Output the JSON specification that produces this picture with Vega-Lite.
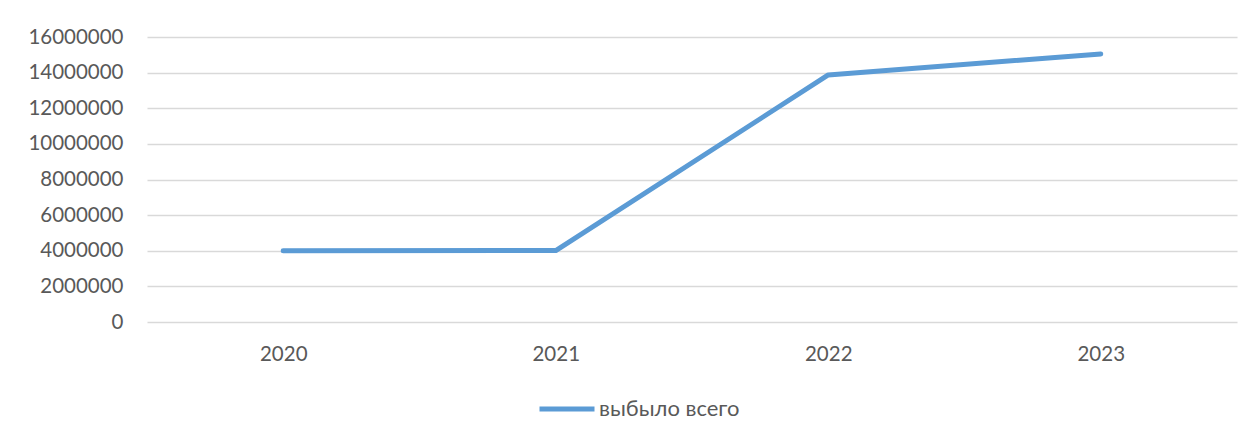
{
  "$schema": "https://vega.github.io/schema/vega-lite/v6.json",
  "autosize": "none",
  "width": 1090,
  "height": 285,
  "padding": {"left": 147, "top": 37, "right": 16, "bottom": 117},
  "background": "white",
  "config": {
    "font": "Lato",
    "view": {"stroke": null},
    "axis": {"labelFont": "Lato", "labelColor": "#595959", "labelFontSize": 20.5, "domain": false, "ticks": false}
  },
  "data": {
    "values": [
      {"year": "2020", "value": 4000000, "series": "выбыло всего"},
      {"year": "2021", "value": 4010000, "series": "выбыло всего"},
      {"year": "2022", "value": 13870000, "series": "выбыло всего"},
      {"year": "2023", "value": 15050000, "series": "выбыло всего"}
    ]
  },
  "mark": {"type": "line", "strokeWidth": 5, "strokeCap": "round", "strokeJoin": "round"},
  "encoding": {
    "x": {
      "field": "year", "type": "ordinal", "title": null,
      "scale": {"type": "point", "padding": 0.5},
      "axis": {"labelAngle": 0, "labelPadding": 22, "grid": false}
    },
    "y": {
      "field": "value", "type": "quantitative", "title": null,
      "scale": {"domain": [0, 16000000], "nice": false},
      "axis": {"values": [0, 2000000, 4000000, 6000000, 8000000, 10000000, 12000000, 14000000, 16000000], "format": "d", "labelPadding": 24, "gridColor": "#D9D9D9", "gridWidth": 1.5}
    },
    "color": {
      "field": "series", "type": "nominal",
      "scale": {"range": ["#5B9BD5"]},
      "legend": {
        "title": null, "orient": "none", "legendX": 390, "legendY": 342,
        "symbolType": "stroke", "symbolSize": 3025, "symbolStrokeWidth": 5,
        "labelFontSize": 22, "labelColor": "#595959", "labelFont": "Lato", "labelOffset": 2
      }
    }
  }
}
